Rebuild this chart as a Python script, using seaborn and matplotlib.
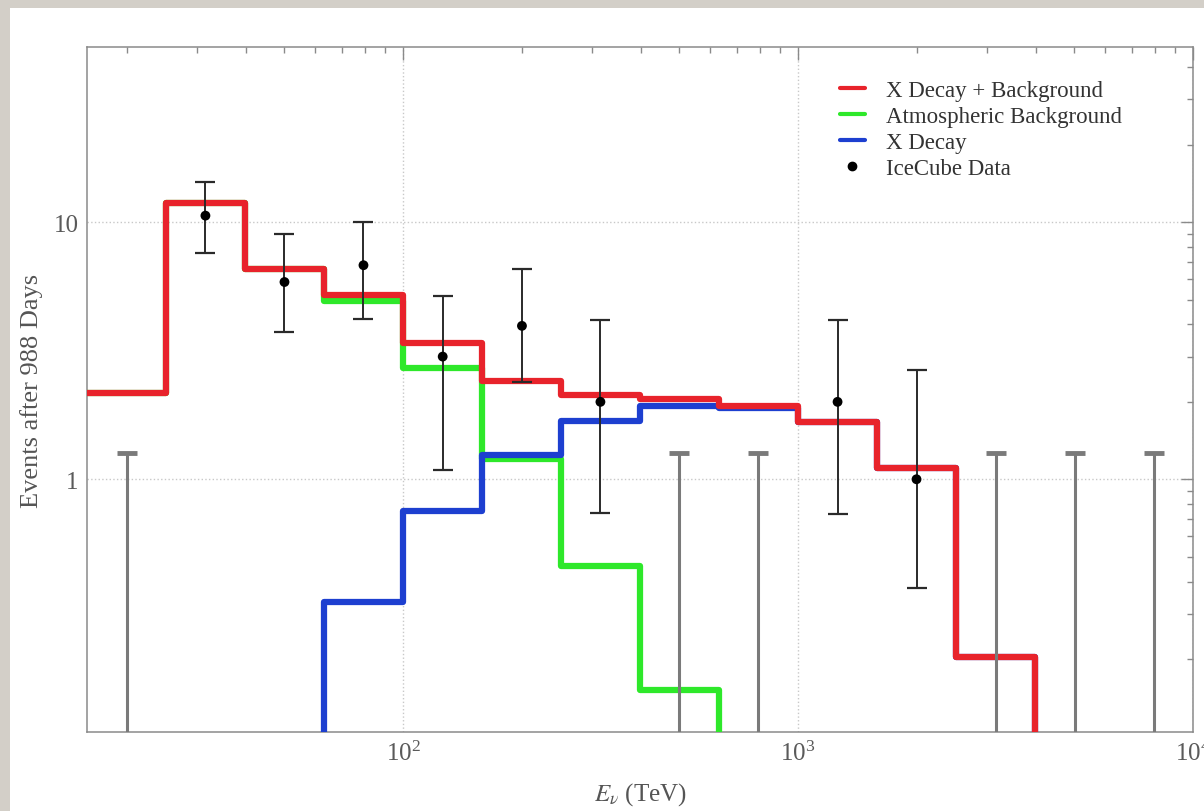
import numpy as np
import matplotlib
matplotlib.use("Agg")
import matplotlib.pyplot as plt
import seaborn as sns
from matplotlib.lines import Line2D
from matplotlib.patches import Rectangle
from matplotlib.ticker import LogLocator, NullFormatter

# bin edges in TeV (0.2 decade bins)
edges = [15.85, 25.1, 39.8, 63.1, 100, 158, 251, 398, 631, 1000, 1585, 2512, 3981]

# histogram heights per bin
total = [2.16, 11.9, 6.55, 5.2, 3.4, 2.41, 2.12, 2.05, 1.93, 1.67, 1.11, 0.204]
atmos = [2.16, 11.9, 6.55, 4.93, 2.72, 1.2, 0.46, 0.152]
xdecay = [0.333, 0.75, 1.24, 1.68, 1.92, 1.9, 1.67, 1.11, 0.204]  # from 63 TeV on
xdecay_start = 3

# IceCube data points
data_e = [31.6, 50.1, 79.4, 126, 200, 316, 1259, 1995]
data_n = [10.6, 5.85, 6.8, 3.0, 3.95, 2.0, 2.0, 1.0]
data_lo = [7.6, 3.73, 4.2, 1.09, 2.38, 0.74, 0.73, 0.377]
data_hi = [14.3, 8.96, 10.0, 5.15, 6.6, 4.16, 4.16, 2.65]

# empty bins: upper limits only
ul_e = [20, 501, 794, 3162, 5012, 7943]
ul_hi = [1.26, 1.26, 1.26, 1.26, 1.26, 1.26]

floor = 1e-3


def step_xy(e, v, drop_left=False):
    n = len(v)
    x = list(e[:n + 1]) + [e[n]]
    y = list(v) + [v[-1], floor]
    if drop_left:
        x = [e[0]] + x
        y = [floor] + y
    return x, y


sns.set_style("white")
plt.rcParams['font.family'] = ['Liberation Serif', 'DejaVu Serif']
plt.rcParams['mathtext.fontset'] = 'stix'

fig = plt.figure(figsize=(12.04, 8.12), dpi=100)
fig.patch.set_facecolor('#d3cfc8')
fig.patches.append(Rectangle((10 / 1204, 0), 1, 1 - 9 / 812, transform=fig.transFigure,
                             facecolor='white', edgecolor='none', zorder=-5))
ax = fig.add_axes([0.0723, 0.0973, 0.9186, 0.8436])
ax.set_zorder(2)
ax.set_facecolor('white')
ax.set_xscale('log')
ax.set_yscale('log')

red = '#e8232b'
green = '#2ee82a'
blue = '#1d3fd0'

gx, gy = step_xy(edges, atmos)
sns.lineplot(x=gx, y=gy, ax=ax, color=green, lw=4.5, drawstyle='steps-post',
             sort=False, estimator=None, zorder=3)
bx, by = step_xy(edges[xdecay_start:], xdecay, drop_left=True)
sns.lineplot(x=bx, y=by, ax=ax, color=blue, lw=4.5, drawstyle='steps-post',
             sort=False, estimator=None, zorder=3)
rx, ry = step_xy(edges, total)
sns.lineplot(x=rx, y=ry, ax=ax, color=red, lw=4.5, drawstyle='steps-post',
             sort=False, estimator=None, zorder=4)

# upper limits of empty bins
ul_hi_a = np.array(ul_hi)
ax.errorbar(ul_e, ul_hi, yerr=[ul_hi_a - floor, np.zeros_like(ul_hi_a)], fmt='none',
            ecolor='#7a7a7a', elinewidth=2.2, capsize=7, capthick=3.5, zorder=5)

# data with error bars
n = np.array(data_n)
ax.errorbar(data_e, data_n, yerr=[n - np.array(data_lo), np.array(data_hi) - n], fmt='none',
            ecolor='#2a2a2a', elinewidth=1.4, capsize=7, capthick=1.6, zorder=6)
sns.scatterplot(x=data_e, y=data_n, ax=ax, color='black', s=50, edgecolor='none', zorder=7)

ax.set_xlim(10 ** 1.2, 1e4)
ax.set_ylim(0.104, 48)

ax.grid(True, which='major', ls=':', color='#c8c8c8', lw=1.0)
ax.set_yticks([1, 10])
ax.set_yticklabels(['1', '10'])
ax.yaxis.set_minor_locator(LogLocator(base=10, subs=np.arange(2, 10)))
ax.yaxis.set_minor_formatter(NullFormatter())
ax.xaxis.set_minor_locator(LogLocator(base=10, subs=np.arange(2, 10)))
ax.xaxis.set_minor_formatter(NullFormatter())
ax.tick_params(which='both', direction='in', top=True, right=True, color='#8a8a8a',
               labelcolor='#5a5a5a', labelsize=18, width=1)
ax.tick_params(which='major', length=9, pad=6)
ax.tick_params(which='minor', length=4.5)
for s in ax.spines.values():
    s.set_color('#8a8a8a')
    s.set_linewidth(1.1)

ax.set_xlabel(r'$E_\nu$ (TeV)', fontsize=18, color='#555555', labelpad=11)
ax.set_ylabel('Events after 988 Days', fontsize=19, color='#555555', labelpad=8)

handles = [
    Line2D([], [], color=red, lw=3),
    Line2D([], [], color=green, lw=3),
    Line2D([], [], color=blue, lw=3),
    Line2D([], [], color='black', marker='o', ls='none', markersize=6),
]
labels = ['X Decay + Background', 'Atmospheric Background', 'X Decay', 'IceCube Data']
leg = ax.legend(handles, labels, loc='upper left', bbox_to_anchor=(0.662, 0.982),
                frameon=False, fontsize=16.5, labelspacing=0.22, handlelength=1.1,
                handletextpad=0.9)
for t in leg.get_texts():
    t.set_color('#333333')

fig.savefig('out.png', dpi=100, facecolor=fig.get_facecolor())
